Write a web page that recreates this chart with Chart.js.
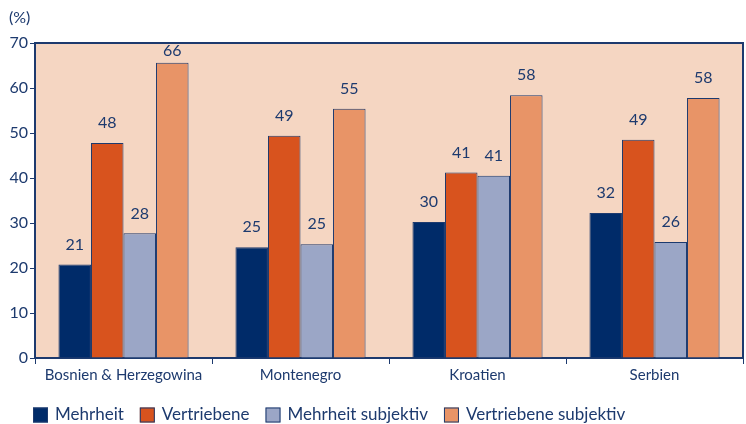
<!DOCTYPE html>
<html>
<head>
<meta charset="utf-8">
<script src="https://cdn.jsdelivr.net/npm/chart.js@4"></script>
<style>
  html, body { margin: 0; padding: 0; background: #fff; }
  #wrap { width: 746px; height: 424px; position: relative; }
</style>
</head>
<body>
<div id="wrap"><canvas id="chart" width="746" height="424"></canvas></div>
<script>
const categories = ["Bosnien & Herzegowina", "Montenegro", "Kroatien", "Serbien"];
const seriesNames = ["Mehrheit", "Vertriebene", "Mehrheit subjektiv", "Vertriebene subjektiv"];
const mehrheit = [20.8, 24.6, 30.2, 32.2];
const vertriebene = [47.8, 49.4, 41.2, 48.5];
const mehrheitSubjektiv = [27.7, 25.3, 40.5, 25.8];
const vertriebeneSubjektiv = [65.6, 55.4, 58.4, 57.8];
const yTicks = [0, 10, 20, 30, 40, 50, 60, 70];

const navy = "#1d3a6e";
const colors = ["#002b69", "#d8531e", "#9ba6c6", "#e89467"];
const font = "Lato, 'Liberation Sans', sans-serif";

// plot background, top/right frame, value labels, unit label and legend
const decor = {
    id: "decor",
    beforeDraw(chart) {
        const { ctx, chartArea: a } = chart;
        ctx.save();
        ctx.fillStyle = "#f5d6c2";
        ctx.fillRect(a.left, a.top, a.right - a.left, a.bottom - a.top);
        ctx.restore();
    },
    afterDatasetsDraw(chart) {
        const { ctx, chartArea: a } = chart;
        ctx.save();
        ctx.strokeStyle = navy;
        ctx.lineWidth = 2;
        ctx.beginPath();
        ctx.moveTo(a.left, a.top);
        ctx.lineTo(a.right, a.top);
        ctx.lineTo(a.right, a.bottom);
        ctx.stroke();

        ctx.fillStyle = navy;
        ctx.font = "16px " + font;
        ctx.textAlign = "center";
        ctx.textBaseline = "bottom";
        chart.data.datasets.forEach((ds, i) => {
            chart.getDatasetMeta(i).data.forEach((bar, j) => {
                const y = Math.max(bar.y - 12, a.top + 16);
                ctx.fillText(Math.round(ds.data[j]), bar.x, y);
            });
        });

        ctx.textAlign = "left";
        ctx.textBaseline = "middle";
        ctx.fillText("(%)", 9, 18);

        // legend
        ctx.font = "17px " + font;
        let x = 33;
        const y = 415;
        chart.data.datasets.forEach(ds => {
            ctx.fillStyle = ds.backgroundColor;
            ctx.fillRect(x, y - 7.5, 15, 15);
            ctx.lineWidth = 1;
            ctx.strokeStyle = navy;
            ctx.strokeRect(x + 0.5, y - 7, 14, 14);
            ctx.fillStyle = navy;
            ctx.fillText(ds.label, x + 22, y);
            x += 22 + ctx.measureText(ds.label).width + 16;
        });
        ctx.restore();
    }
};

const datasets = [mehrheit, vertriebene, mehrheitSubjektiv, vertriebeneSubjektiv].map((d, i) => ({
    label: seriesNames[i],
    data: d,
    backgroundColor: colors[i],
    borderColor: navy,
    borderWidth: 1,
    categoryPercentage: 0.735,
    barPercentage: 1
}));

new Chart(document.getElementById("chart"), {
    type: "bar",
    data: { labels: categories, datasets: datasets },
    options: {
        responsive: false,
        animation: false,
        layout: { padding: { top: 43, right: 3, left: 0, bottom: 36 } },
        plugins: {
            tooltip: { enabled: false },
            legend: { display: false }
        },
        scales: {
            x: {
                afterFit(scale) { scale.height = 30; },
                grid: { drawOnChartArea: false, tickLength: 6, color: navy, lineWidth: 1 },
                border: { color: navy, width: 2 },
                ticks: { color: navy, font: { family: font, size: 15 }, padding: 2 }
            },
            y: {
                min: 0,
                max: 70,
                afterBuildTicks(scale) { scale.ticks = yTicks.map(v => ({ value: v })); },
                afterFit(scale) { scale.width = 35; },
                grid: { drawOnChartArea: false, tickLength: 5, color: navy },
                border: { color: navy, width: 2 },
                ticks: { color: navy, font: { family: font, size: 16 }, padding: 2 }
            }
        }
    },
    plugins: [decor]
});
</script>
</body>
</html>
